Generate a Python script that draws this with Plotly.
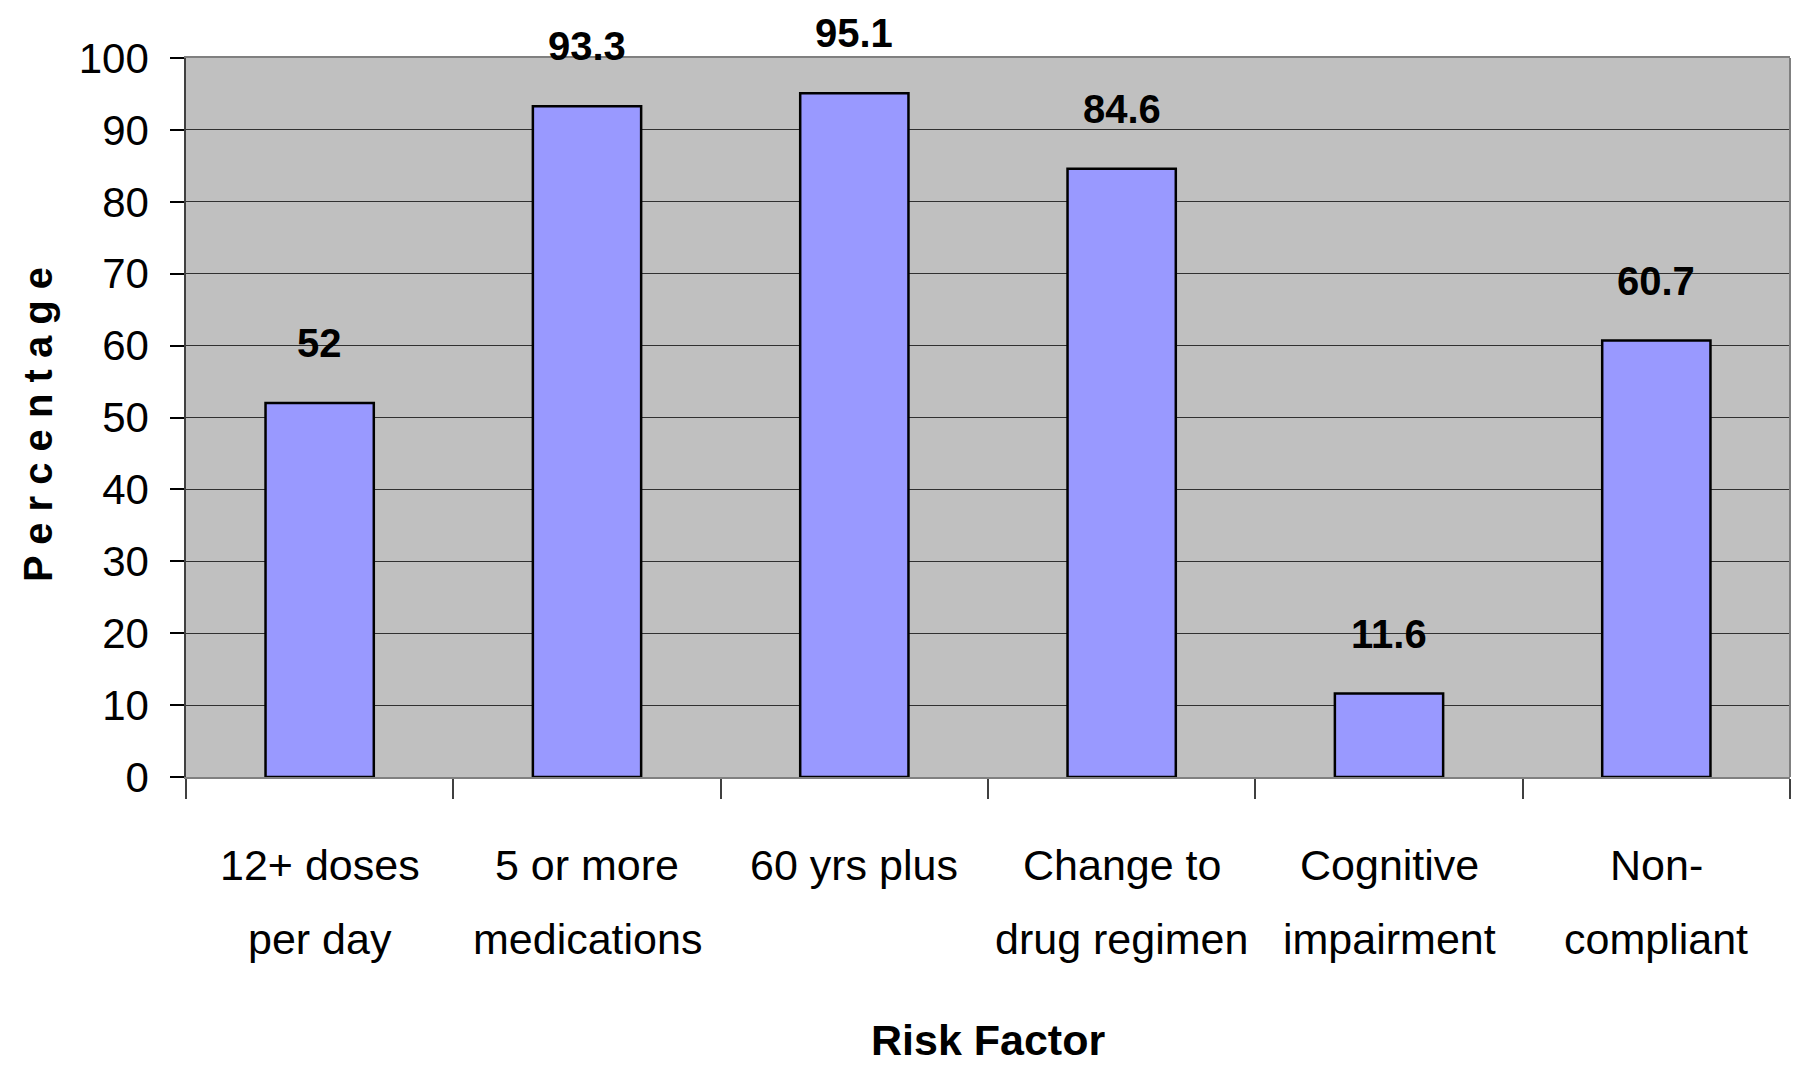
import plotly.graph_objects as go

# Risk factors and the percentage of cases showing each one
categories = [
    "12+ doses<br>per day",
    "5 or more<br>medications",
    "60 yrs plus",
    "Change to<br>drug regimen",
    "Cognitive<br>impairment",
    "Non-<br>compliant",
]
percentages = [52, 93.3, 95.1, 84.6, 11.6, 60.7]
y_ticks = [0, 10, 20, 30, 40, 50, 60, 70, 80, 90, 100]

FONT = "Liberation Sans, Arial, sans-serif"

fig = go.Figure()
fig.add_trace(go.Bar(
    x=categories,
    y=percentages,
    width=0.405,
    marker=dict(color="#9999FF", line=dict(color="#000000", width=2.5)),
    hoverinfo="y",
))

# value labels above each bar
for cat, val in zip(categories, percentages):
    fig.add_annotation(
        x=cat, y=val, xref="x", yref="y",
        text=f"<b>{val:g}</b>",
        showarrow=False, yanchor="middle", yshift=60,
        font=dict(family=FONT, size=40, color="#000000"),
    )

# category labels under the axis, one line at a time for wider line spacing
LINE_GAP = 74
for cat in categories:
    for i, line in enumerate(cat.split("<br>")):
        fig.add_annotation(
            x=cat, y=0, xref="x", yref="paper",
            text=line, showarrow=False,
            xanchor="center", yanchor="middle",
            yshift=-88 - i * LINE_GAP,
            font=dict(family=FONT, size=43, color="#000000"),
        )

# axis titles
fig.add_annotation(
    x=-0.0923, y=0.491, xref="paper", yref="paper",
    text="<b>P e r c e n t a g e</b>", textangle=-90,
    showarrow=False, xanchor="center", yanchor="middle",
    font=dict(family=FONT, size=40, color="#000000"),
)
fig.add_annotation(
    x=0.5, y=-0.366, xref="paper", yref="paper",
    text="<b>Risk Factor</b>",
    showarrow=False, xanchor="center", yanchor="middle",
    font=dict(family=FONT, size=43, color="#000000"),
)

# right frame edge
fig.add_shape(type="line", xref="paper", yref="paper", x0=1, x1=1, y0=0, y1=1,
              line=dict(color="#808080", width=2))

fig.update_layout(
    width=1796, height=1066,
    margin=dict(l=186, r=6, t=58, b=289, autoexpand=False),
    paper_bgcolor="#FFFFFF",
    plot_bgcolor="#C0C0C0",
    showlegend=False,
    bargap=0.6,
    font=dict(family=FONT, color="#000000"),
)
fig.update_xaxes(
    type="category",
    range=[-0.5, 5.5],
    automargin=False,
    showticklabels=False,
    showline=True, linecolor="#808080", linewidth=2, mirror=True,
    ticks="outside", tickson="boundaries", ticklen=20, tickcolor="#404040", tickwidth=1.5,
    showgrid=False,
)
fig.update_yaxes(
    range=[0, 100],
    tickvals=y_ticks,
    automargin=False,
    showline=True, linecolor="#404040", linewidth=1.5,
    ticks="outside", ticklen=14, tickcolor="#000000", tickwidth=1.5,
    tickfont=dict(family=FONT, size=42, color="#000000"),
    ticklabelstandoff=13,
    showgrid=True, gridcolor="#303030", gridwidth=1.2,
    zeroline=False,
)

fig.write_html("out.html")
